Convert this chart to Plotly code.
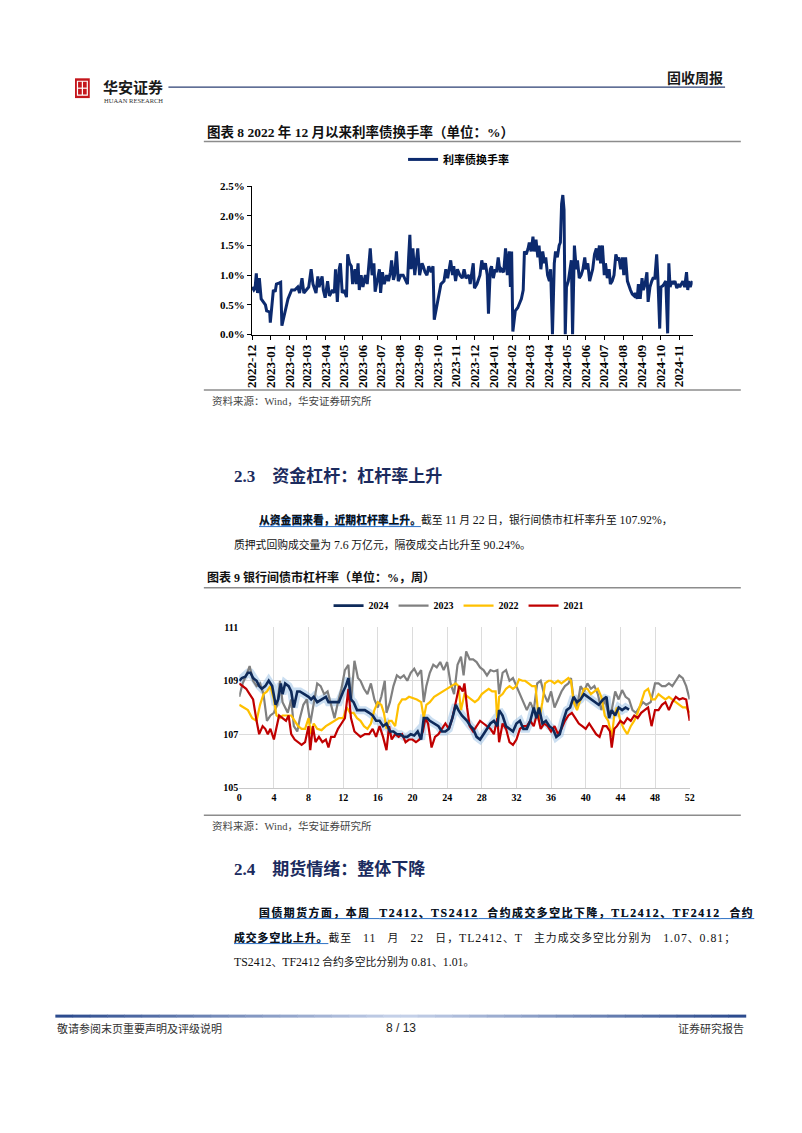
import re
import plotly.graph_objects as go
import pandas as pd

# page is 802x1133; the browser keeps its default 8px body margin,
# so the figure is 786x1117 and page pixels are shifted by 8.
PAGE_OFF = 8
FW, FH = 786, 1117

# ---------------- data ----------------
# 图表8 利率债换手率 (%): (days since 2022-12-01, value)
turnover_start = "2022-12-01"
turnover = [
    (0,0.80),(3,0.75),(5,0.78),(7,1.03),(9,0.70),(12,0.95),(15,0.60),(18,0.55),(22,0.50),(24,0.40),
    (29,0.38),(30,0.20),(32,0.45),(35,0.75),(38,0.72),(40,0.85),(45,0.87),(47,0.88),(49,0.15),(54,0.35),
    (59,0.60),(65,0.75),(70,0.75),(75,0.80),(78,0.70),(82,0.95),(85,0.70),(89,0.75),(93,0.80),(97,1.10),
    (100,0.85),(105,0.70),(108,0.98),(110,0.80),(115,0.98),(117,0.75),(120,0.62),(124,0.90),(127,0.65),(132,0.75),
    (135,0.70),(137,1.10),(140,0.55),(143,1.10),(145,1.20),(148,0.70),(151,0.75),(155,0.63),(157,1.35),(160,1.20),
    (163,1.15),(165,0.85),(169,1.10),(171,0.85),(174,1.20),(176,0.75),(179,1.00),(182,0.80),(186,1.00),(189,0.85),
    (191,1.15),(194,1.45),(197,1.00),(200,1.20),(202,0.72),(205,0.90),(209,1.10),(211,0.70),(214,1.05),(217,0.85),
    (221,1.00),(224,0.90),(227,1.05),(229,1.25),(232,0.92),(234,1.00),(237,1.40),(240,0.90),(244,1.00),(248,1.00),
    (252,0.92),(255,0.85),(257,1.30),(259,1.68),(261,1.10),(264,1.45),(267,1.00),(269,1.20),(272,1.45),(275,1.00),
    (279,1.20),(281,1.15),(284,1.05),(287,1.00),(290,1.15),(294,1.05),(297,1.15),(299,0.25),(304,0.50),(310,0.85),
    (315,0.90),(318,1.10),(321,0.95),(323,1.10),(326,1.25),(329,1.00),(331,1.15),(334,0.90),(337,1.10),(341,1.00),
    (345,0.95),(348,1.10),(351,0.95),(356,1.00),(358,0.85),(363,1.20),(365,0.78),(369,0.85),(374,1.00),(377,1.25),
    (380,1.10),(383,1.20),(386,1.00),(388,0.35),(391,1.10),(393,1.15),(396,0.95),(399,1.10),(401,1.05),(404,1.30),
    (407,1.05),(409,1.10),(413,1.05),(416,1.45),(419,1.00),(422,1.40),(424,0.80),(426,1.40),(428,0.05),(432,0.40),
    (436,0.45),(442,0.60),(445,0.75),(447,1.40),(450,1.35),(453,1.45),(455,1.55),(458,1.40),(461,1.65),(463,1.40),
    (466,1.60),(469,1.30),(471,1.50),(474,1.10),(477,1.40),(480,1.20),(482,1.30),(485,1.00),(488,0.90),(490,1.10),
    (493,0.00),(496,1.20),(498,1.40),(501,1.30),(504,1.50),(506,1.55),(508,2.20),(510,2.35),(512,2.10),(514,0.00),
    (516,0.80),(519,0.90),(522,1.10),(524,1.25),(526,0.00),(529,1.50),(532,1.10),(534,1.25),(537,0.95),(540,1.00),
    (543,1.10),(546,1.30),(548,1.10),(551,1.20),(554,0.90),(557,1.00),(559,1.10),(562,1.35),(565,1.45),(567,1.25),
    (570,1.50),(572,1.20),(575,1.50),(578,1.00),(580,1.20),(583,0.95),(586,1.10),(588,0.85),(591,0.90),(594,1.00),
    (597,1.35),(600,1.25),(602,1.30),(605,1.10),(608,1.30),(610,1.00),(613,1.30),(616,0.90),(619,0.80),(621,0.75),
    (624,0.68),(627,0.65),(629,0.70),(632,0.60),(634,0.85),(637,0.60),(640,0.95),(642,0.75),(645,0.85),(648,1.05),
    (650,0.55),(653,0.80),(656,0.90),(658,0.95),(661,0.95),(664,1.35),(666,0.95),(669,0.10),(671,0.80),(674,0.82),
    (676,0.85),(679,0.90),(682,0.02),(684,1.20),(686,0.80),(689,0.90),(691,0.85),(694,0.90),(697,0.78),(699,0.85),
    (702,0.80),(705,0.85),(707,0.90),(710,0.80),(713,1.05),(715,0.75),(717,0.90),(719,0.80),(723,0.90),
]
turnover_name = "利率债换手率"

# 图表9 银行间债市杠杆率 (%): (week, value)
lev_2024 = [
    (0,109.0),(0.3,109.1),(0.7,109.15),(1.0,109.3),(1.3,109.3),(1.6,109.1),(2.0,109.0),(2.3,108.8),(2.6,108.7),
    (3.0,108.8),(3.4,109.0),(3.8,108.8),(4.2,108.1),(4.5,108.3),(4.8,108.9),(5.0,108.5),(5.3,108.9),(5.7,108.8),
    (6.0,108.6),(6.3,108.0),(6.7,108.6),(7.0,108.6),(7.5,108.5),(8.0,108.4),(8.3,108.3),(8.6,108.4),(9.0,108.2),
    (9.5,108.3),(10.0,108.4),(10.3,108.2),(10.7,108.2),(11.0,108.2),(11.5,108.2),(12.0,108.6),(12.3,108.8),
    (12.6,109.1),(12.9,108.3),(13.2,108.2),(13.6,107.9),(14.0,107.9),(14.5,107.9),(15.0,107.8),(15.4,107.7),
    (15.8,107.5),(16.2,107.5),(16.6,107.3),(17.0,107.4),(17.4,107.1),(17.8,107.1),(18.2,107.0),(18.6,107.0),
    (19.0,106.9),(19.4,106.9),(19.8,107.0),(20.2,106.95),(20.6,107.1),(21.0,106.8),(21.3,107.6),(21.7,107.6),
    (22.0,107.5),(22.5,107.4),(23.0,107.3),(23.4,107.1),(23.8,107.1),(24.2,107.2),(24.6,107.6),(25.0,108.1),
    (25.3,107.9),(25.7,107.7),(26.0,107.6),(26.3,107.5),(26.7,107.3),(27.0,107.2),(27.4,106.9),(27.8,106.8),
    (28.2,107.0),(28.6,107.2),(29.0,107.4),(29.4,107.5),(29.8,107.3),(30.0,107.9),(30.4,107.7),(30.8,107.3),
    (31.2,107.2),(31.6,107.1),(32.0,107.4),(32.4,107.5),(32.8,107.2),(33.2,107.2),(33.6,107.5),(34.0,108.0),
    (34.3,107.6),(34.6,108.0),(35.0,107.4),(35.4,107.5),(35.8,107.3),(36.2,107.2),(36.6,106.9),(37.0,107.0),
    (37.4,107.5),(37.8,107.9),(38.2,108.0),(38.6,108.4),(39.0,108.2),(39.4,108.3),(39.8,108.5),(40.2,108.4),
    (40.6,108.3),(41.0,108.2),(41.5,108.1),(42.0,108.3),(42.4,108.4),(42.7,107.6),(43.0,107.9),(43.4,107.7),
    (43.8,108.0),(44.2,107.9),(44.6,108.0),(45.0,107.92),
]
lev_2023 = [
    (0,108.4),(0.4,108.9),(0.8,109.2),(1.2,109.55),(1.6,109.0),(2.0,108.8),(2.4,108.9),(2.8,108.5),(3.2,107.5),
    (3.6,107.7),(4.0,107.8),(4.4,108.1),(4.7,109.0),(5.0,108.2),(5.3,108.0),(5.6,107.8),(6.0,108.3),(6.3,107.3),
    (6.7,107.1),(7.0,107.6),(7.4,108.1),(7.8,108.3),(8.2,107.4),(8.6,108.2),(9.0,108.9),(9.4,108.8),(9.8,108.5),
    (10.2,108.6),(10.6,108.1),(11.0,107.6),(11.4,108.2),(11.8,108.7),(12.2,109.4),(12.6,109.6),(12.9,108.2),
    (13.3,109.75),(13.7,109.1),(14.0,109.0),(14.4,108.7),(14.8,108.5),(15.2,108.9),(15.6,108.3),(16.0,108.0),
    (16.4,108.4),(16.8,109.0),(17.0,107.8),(17.4,108.2),(17.8,108.8),(18.2,109.2),(18.6,109.1),(19.0,109.2),
    (19.4,109.0),(19.8,109.3),(20.2,109.45),(20.6,109.2),(21.0,109.4),(21.3,108.2),(21.6,108.8),(22.0,109.3),
    (22.4,109.6),(22.8,109.5),(23.2,109.7),(23.6,109.4),(24.0,109.7),(24.4,108.9),(24.8,108.5),(25.2,109.6),
    (25.6,109.9),(25.9,109.2),(26.2,110.1),(26.6,109.8),(27.0,109.8),(27.4,109.7),(27.8,109.5),(28.2,109.4),
    (28.6,109.2),(29.0,109.4),(29.4,109.35),(29.8,109.4),(30.0,108.5),(30.4,109.3),(30.8,109.4),(31.2,109.0),
    (31.6,109.1),(32.0,108.8),(32.4,108.5),(32.8,108.2),(33.2,107.9),(33.6,108.2),(34.0,107.9),(34.4,108.9),
    (34.8,109.0),(35.2,108.5),(35.6,108.2),(36.0,108.6),(36.4,108.0),(36.8,108.3),(37.2,108.6),(37.6,108.8),
    (38.0,108.9),(38.3,109.1),(38.6,108.3),(39.0,108.0),(39.4,108.8),(39.8,108.6),(40.2,108.9),(40.6,108.7),
    (41.0,108.8),(41.4,108.5),(41.8,107.9),(42.2,108.3),(42.6,107.8),(43.0,107.9),(43.4,108.6),(43.8,108.3),
    (44.2,108.65),(44.6,108.4),(45.0,108.3),(45.4,107.9),(45.8,107.8),(46.2,108.0),(46.6,108.2),(47.0,108.1),
    (47.5,108.2),(48.0,108.9),(48.4,108.9),(48.8,108.8),(49.2,108.8),(49.6,108.9),(50.0,108.8),(50.4,109.0),
    (50.8,109.2),(51.2,109.1),(51.6,108.8),(52.0,108.3),
]
lev_2022 = [
    (0,108.1),(0.5,108.0),(1.0,107.9),(1.5,107.6),(2.0,107.5),(2.4,108.1),(2.8,108.5),(3.2,108.6),(3.6,108.8),
    (4.0,108.3),(4.3,107.7),(4.7,107.6),(5.0,107.7),(5.5,107.7),(6.0,107.7),(6.4,107.5),(6.8,107.3),(7.2,107.2),
    (7.6,107.2),(8.0,107.6),(8.3,107.0),(8.6,107.4),(9.0,107.2),(9.5,107.15),(10.0,107.3),(10.5,107.4),(11.0,107.5),
    (11.5,107.6),(12.0,107.6),(12.4,108.0),(12.8,107.8),(13.2,107.8),(13.6,107.6),(14.0,107.5),(14.4,107.3),
    (14.8,107.2),(15.2,107.4),(15.6,107.9),(16.0,108.2),(16.4,108.1),(16.7,107.8),(17.0,107.2),(17.3,107.5),
    (17.6,107.5),(18.0,107.3),(18.4,108.1),(18.8,108.3),(19.2,108.3),(19.6,108.4),(20.0,108.35),(20.5,108.3),
    (21.0,108.2),(21.3,107.6),(21.6,108.1),(22.0,108.2),(22.5,108.4),(23.0,108.5),(23.5,108.6),(24.0,108.7),
    (24.5,108.8),(25.0,108.9),(25.3,108.8),(25.6,107.9),(26.0,108.5),(26.4,108.4),(26.8,108.3),(27.2,108.2),
    (27.6,108.3),(28.0,108.5),(28.4,108.6),(28.8,108.7),(29.2,108.6),(29.6,108.6),(29.8,107.4),(30.0,108.4),
    (30.4,108.5),(30.8,108.7),(31.2,108.8),(31.6,108.7),(32.0,108.8),(32.3,109.05),(32.7,109.0),(33.0,109.0),
    (33.4,108.9),(33.8,108.8),(34.2,108.8),(34.6,107.5),(35.0,108.2),(35.3,108.9),(35.7,109.0),(36.0,109.0),
    (36.4,108.9),(36.8,109.0),(37.2,108.9),(37.6,109.0),(38.0,109.1),(38.3,109.0),(38.6,108.2),(39.0,107.9),
    (39.4,108.3),(39.8,108.7),(40.2,108.7),(40.6,108.5),(41.0,108.6),(41.4,108.7),(41.8,108.4),(42.2,107.7),
    (42.6,107.5),(43.0,106.9),(43.3,107.7),(43.6,108.0),(44.0,107.5),(44.4,107.2),(44.8,107.0),(45.2,107.3),
    (45.6,107.5),(46.0,107.8),(46.4,108.2),(46.8,108.6),(47.2,108.7),(47.6,108.3),(48.0,108.3),(48.4,108.5),
    (48.8,108.4),(49.2,108.3),(49.6,108.4),(50.0,108.3),(50.4,108.2),(50.8,108.1),(51.2,108.0),(51.6,108.0),
    (52.0,107.8),
]
lev_2021 = [
    (0,108.9),(0.4,108.8),(0.8,108.7),(1.2,108.5),(1.6,108.3),(2.0,107.5),(2.3,107.0),(2.7,107.3),(3.0,107.2),
    (3.3,107.0),(3.6,107.2),(4.0,106.8),(4.3,107.3),(4.6,107.7),(5.0,107.6),(5.4,107.5),(5.7,107.7),(6.0,107.0),
    (6.4,106.8),(6.8,106.7),(7.2,106.6),(7.6,106.7),(8.0,107.3),(8.2,106.4),(8.5,107.3),(8.8,106.7),(9.2,106.9),
    (9.6,106.7),(10.0,106.8),(10.3,106.5),(10.6,106.9),(11.0,106.9),(11.4,107.2),(11.8,107.4),(12.2,107.6),
    (12.6,108.7),(12.9,107.6),(13.3,107.1),(13.7,107.0),(14.0,106.9),(14.5,107.0),(15.0,107.0),(15.4,107.2),
    (15.8,106.9),(16.2,107.3),(16.6,106.9),(17.0,106.4),(17.3,107.3),(17.6,106.8),(18.0,107.0),(18.4,106.9),
    (18.8,107.0),(19.2,106.7),(19.6,106.8),(20.0,106.8),(20.4,106.7),(20.8,106.8),(21.2,107.1),(21.5,107.6),
    (21.8,107.4),(22.2,106.5),(22.6,106.9),(23.0,107.0),(23.4,107.2),(23.8,107.4),(24.2,107.2),(24.6,107.6),
    (25.0,108.2),(25.4,108.8),(25.8,108.6),(26.0,108.9),(26.3,108.0),(26.6,107.3),(27.0,107.1),(27.4,107.3),
    (27.8,107.5),(28.2,107.4),(28.6,107.3),(29.0,107.2),(29.4,107.0),(29.8,107.6),(30.0,106.7),(30.4,107.4),
    (30.8,107.2),(31.2,106.7),(31.6,106.6),(32.0,106.8),(32.4,107.2),(32.8,107.3),(33.2,107.3),(33.6,107.5),
    (34.0,107.3),(34.4,107.8),(34.8,107.2),(35.2,107.4),(35.6,107.3),(36.0,107.1),(36.4,107.3),(36.8,107.0),
    (37.2,107.2),(37.6,107.5),(38.0,107.7),(38.4,107.8),(38.8,107.6),(39.2,107.4),(39.6,107.3),(40.0,107.2),
    (40.4,107.4),(40.8,107.2),(41.2,107.0),(41.6,106.9),(42.0,107.3),(42.4,107.3),(42.8,107.1),(43.0,106.5),
    (43.3,107.2),(43.6,107.3),(44.0,107.5),(44.4,107.4),(44.8,107.6),(45.2,107.5),(45.6,107.7),(46.0,107.6),
    (46.4,107.8),(46.8,107.9),(47.2,108.0),(47.6,107.3),(48.0,107.9),(48.4,107.9),(48.8,108.1),(49.2,108.2),
    (49.6,107.9),(50.0,108.2),(50.4,108.4),(50.8,108.3),(51.2,108.35),(51.6,108.3),(52.0,107.5),
]
lev_names = ["2024", "2023", "2022", "2021"]

# ---------------- styling ----------------
SERIF = "Liberation Serif, Noto Sans CJK SC"
CJK = "Noto Sans CJK SC, Liberation Serif"
NAVY = "#0c2a6e"
HEAD = "#1b2b5e"
ULINE = "#3d7cc9"
BODY = 10.8      # CJK glyph size of body text
BODY_LAT = 11.8  # latin glyph size of body text
lev_colors = {"2024": "#0e2a5a", "2023": "#808080", "2022": "#ffc000", "2021": "#c00000"}
NB = "\u00a0"


def px(x):
    return (x - PAGE_OFF) / FW


def py(y):
    return 1 - (y - PAGE_OFF) / FH


def mix(s, lat=BODY_LAT):
    """wrap latin runs so they use a slightly larger size than the CJK glyphs"""
    return re.sub(r"([\x21-\x7e](?:[\x20-\x7e]*[\x21-\x7e])?)",
                  lambda m: "<span style='font-size:%.1fpx'>%s</span>" % (lat, m.group(1)), s)


def spaced(s, ls):
    return "<span style='letter-spacing:%.2fpx'>%s</span>" % (ls, s)


fig = go.Figure()

# chart 8
t_dates = pd.Timestamp(turnover_start) + pd.to_timedelta([d for d, _ in turnover], unit="D")
fig.add_trace(go.Scatter(
    x=t_dates, y=[v for _, v in turnover], mode="lines", name=turnover_name,
    line=dict(color=NAVY, width=3), xaxis="x", yaxis="y", legend="legend",
))

# chart 9
series = {"2024": lev_2024, "2023": lev_2023, "2022": lev_2022, "2021": lev_2021}
fig.add_trace(go.Scatter(
    x=[w for w, _ in lev_2024], y=[v for _, v in lev_2024], mode="lines",
    line=dict(color="rgba(150,190,228,0.5)", width=8), showlegend=False,
    xaxis="x2", yaxis="y2", hoverinfo="skip",
))
draw_order = ["2023", "2022", "2021", "2024"]
for name in draw_order:
    data = series[name]
    fig.add_trace(go.Scatter(
        x=[w for w, _ in data], y=[v for _, v in data], mode="lines", name=name,
        line=dict(color=lev_colors[name], width=2.2 if name != "2024" else 2.6),
        xaxis="x2", yaxis="y2", legend="legend2", legendrank=lev_names.index(name) + 1,
    ))

# ---------------- page text ----------------
ann = []
shapes = []


def text(x, y, s, size=BODY, color="#111", anchor="left", family=SERIF, weight="normal"):
    ann.append(dict(x=px(x), y=py(y), xref="paper", yref="paper", text=s, showarrow=False,
                    xanchor=anchor, yanchor="middle",
                    font=dict(size=size, color=color, family=family, weight=weight)))


def hline(x0, x1, y, color, width=1):
    shapes.append(dict(type="line", xref="paper", yref="paper", x0=px(x0), x1=px(x1),
                       y0=py(y), y1=py(y), line=dict(color=color, width=width)))


# header
shapes.append(dict(type="rect", xref="paper", yref="paper", x0=px(68), x1=px(83), y0=py(93), y1=py(73),
                   fillcolor="#c4161c", line=dict(width=0)))
shapes.append(dict(type="rect", xref="paper", yref="paper", x0=px(70.5), x1=px(80.5), y0=py(90), y1=py(76),
                   fillcolor="rgba(0,0,0,0)", line=dict(color="white", width=1.2)))
hline(70.5, 80.5, 83, "white", 1.2)
shapes.append(dict(type="line", xref="paper", yref="paper", x0=px(75.5), x1=px(75.5), y0=py(90), y1=py(76),
                   line=dict(color="white", width=1.2)))
text(94, 81, "华安证券", size=15, color="#1a1a1a", family=CJK, weight="bold")
text(95, 95, "HUAAN RESEARCH", size=6.5, color="#333", family="Liberation Serif")
hline(163, 729, 82, "#2b3f73", 1.3)
text(729, 72, "固收周报", size=14, color="#1a1a1a", anchor="right", family=CJK, weight="bold")

# chart 8 title / rules / source
text(200, 127, "图表 8 2022 年 12 月以来利率债换手率（单位：%）", size=13.5, weight="bold")
hline(199, 745, 137, "#8c8c8c", 1.5)
hline(199, 745, 388, "#8c8c8c", 1.5)
text(205, 399, "资料来源：Wind，华安证券研究所", size=10.5, color="#444")

# section 2.3
text(228, 475, "2.3" + NB * 4 + "资金杠杆：杠杆率上升", size=17, color=HEAD, weight="bold")
u1 = "从资金面来看，近期杠杆率上升。"
text(253, 520, "<u><b>" + u1 + "</b></u>", color=ULINE)
text(253, 520, "<b>" + u1 + "</b>" + mix("截至 11 月 22 日，银行间债市杠杆率升至 107.92%，"))
text(228, 545, mix("质押式回购成交量为 7.6 万亿元，隔夜成交占比升至 90.24%。"))

# chart 9 title / rules / source
text(200, 578, "图表 9 银行间债市杠杆率（单位：%，周）", size=12, weight="bold")
hline(199, 745, 588, "#8c8c8c", 1.5)
hline(199, 745, 818, "#8c8c8c", 1.5)
text(205, 829, "资料来源：Wind，华安证券研究所", size=10.5, color="#444")

# section 2.4
text(228, 872, "2.4" + NB * 4 + "期货情绪：整体下降", size=17, color=HEAD, weight="bold")
u2 = mix("国债期货方面，本周" + NB * 2 + "T2412、TS2412" + NB * 2 + "合约成交多空比下降，TL2412、TF2412"
         + NB * 2 + "合约")
text(253, 917, spaced("<u><b>" + u2 + "</b></u>", 1.6), color=ULINE)
text(253, 917, spaced("<b>" + u2 + "</b>", 1.6))
u3 = "成交多空比上升。"
rest3 = mix("截至" + NB * 3 + "11" + NB * 3 + "月" + NB * 3 + "22" + NB * 3 + "日，TL2412、T" + NB * 3
            + "主力成交多空比分别为" + NB * 3 + "1.07、0.81；")
text(228, 942, spaced("<u><b>" + u3 + "</b></u>", 1.0), color=ULINE)
text(228, 942, spaced("<b>" + u3 + "</b>" + rest3, 1.0))
text(228, 966, mix("TS2412、TF2412 合约多空比分别为 0.81、1.01。"))

# footer
n_seg = 40
x0f, x1f = 48, 750
for i in range(n_seg):
    t = (i + 0.5) / n_seg
    k = abs(t - 0.5) * 2  # 0 in middle, 1 at ends
    r = int(200 + (40 - 200) * k)
    g = int(212 + (72 - 212) * k)
    b = int(235 + (140 - 235) * k)
    xa = x0f + (x1f - x0f) * i / n_seg
    xb = x0f + (x1f - x0f) * (i + 1) / n_seg
    hline(xa, xb + 0.5, 1021, f"rgb({r},{g},{b})", 3)
text(48, 1033, "敬请参阅末页重要声明及评级说明", size=11, color="#333", family=CJK)
text(399, 1033, "8 / 13", size=12, color="#222", anchor="center", family="Liberation Sans")
text(750, 1033, "证券研究报告", size=11, color="#333", anchor="right", family=CJK)

# ---------------- layout ----------------
tick_bold = dict(family="Liberation Serif", size=11, color="#000", weight="bold")
fig.update_layout(
    width=FW, height=FH, autosize=False,
    margin=dict(l=0, r=0, t=0, b=0),
    paper_bgcolor="white", plot_bgcolor="white",
    showlegend=True,
    annotations=ann, shapes=shapes,
    xaxis=dict(
        domain=[px(248), px(696)], anchor="y",
        type="date", range=["2022-12-01", "2024-11-23"],
        tick0="2022-12-01", dtick="M1", tickformat="%Y-%m", tickangle=-90,
        showgrid=False, zeroline=False, showline=True, linecolor="#000", linewidth=1,
        ticks="outside", ticklen=4, tickcolor="#000",
        tickfont=dict(family="Liberation Serif", size=13, color="#000", weight="bold"),
    ),
    yaxis=dict(
        domain=[py(332), py(182)], anchor="x",
        range=[0, 2.5], dtick=0.5, tickformat=".1f", ticksuffix="%",
        showgrid=False, zeroline=False, showline=True, linecolor="#000", linewidth=1,
        ticks="outside", ticklen=4, tickcolor="#000", tickfont=tick_bold,
    ),
    xaxis2=dict(
        domain=[px(235), px(693)], anchor="y2",
        range=[0, 52], dtick=4, tick0=0,
        showgrid=True, gridcolor="#dcdcdc", gridwidth=1, zeroline=False,
        showline=True, linecolor="#c8c8c8", ticks="",
        tickfont=dict(family="Liberation Serif", size=10, color="#000", weight="bold"),
    ),
    yaxis2=dict(
        domain=[py(790), py(628)], anchor="x2",
        range=[105, 111], dtick=2, tick0=105,
        showgrid=True, gridcolor="#dcdcdc", gridwidth=1, zeroline=False,
        showline=False, ticks="",
        tickfont=dict(family="Liberation Serif", size=10, color="#000", weight="bold"),
    ),
    legend=dict(
        x=px(458), y=py(155), xanchor="center", yanchor="middle", orientation="h",
        font=dict(family=CJK, size=11, color="#000", weight="bold"),
        bgcolor="rgba(0,0,0,0)", itemwidth=30,
    ),
    legend2=dict(
        x=px(458), y=py(606), xanchor="center", yanchor="middle", orientation="h",
        font=dict(family="Liberation Serif", size=10, color="#000", weight="bold"),
        bgcolor="rgba(0,0,0,0)", itemwidth=30, traceorder="normal",
    ),
)

fig.write_html("out.html", config={"displayModeBar": False})
